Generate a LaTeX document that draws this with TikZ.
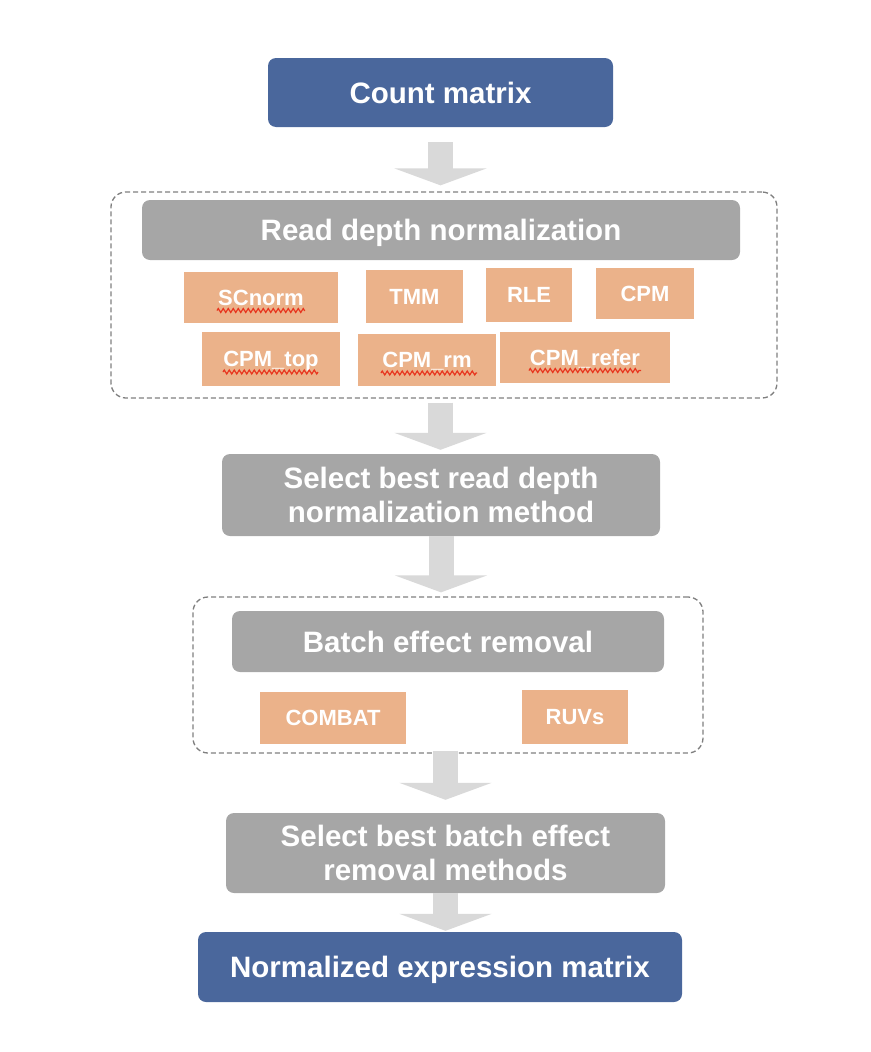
\documentclass[tikz,border=0pt]{standalone}
\usepackage{fontspec}
\setmainfont{Liberation Sans}
\usetikzlibrary{arrows.meta,decorations.pathmorphing}
\definecolor{boxblue}{HTML}{4A679C}
\definecolor{boxgray}{HTML}{A6A6A6}
\definecolor{boxorange}{HTML}{EBB28A}
\definecolor{arrowgray}{HTML}{D9D9D9}
\definecolor{framegray}{HTML}{7F7F7F}
\definecolor{squigred}{HTML}{E8361F}

\begin{document}
\begin{tikzpicture}[x=1pt, y=-1pt,
	mainbox/.style={rounded corners=8pt, text=white, inner sep=0pt, align=center,
		font=\bfseries\fontsize{29.5}{34.5}\selectfont},
	bluebox/.style={mainbox, fill=boxblue, text depth=0pt},
	graybox/.style={mainbox, fill=boxgray},
	headbox/.style={graybox, text depth=0pt},
	method/.style={fill=boxorange, text=white, inner sep=0pt, text depth=0pt,
		font=\bfseries\fontsize{22}{26}\selectfont},
	group/.style={draw=framegray, line width=1.3pt, dash pattern=on 5pt off 3pt,
		rounded corners=15pt, inner sep=0pt},
	flow/.style={draw=arrowgray, line width=25pt, -{Triangle[width=92pt,length=17pt]}},
	squig/.style={draw=squigred, line width=1.2pt, decorate,
		decoration={zigzag, segment length=5pt, amplitude=2pt}}]
	\useasboundingbox (0,0) rectangle (870,1052);
	\node[group, minimum width=666pt, minimum height=206pt] (normgroup) at (444,295) {};
	\node[group, minimum width=510pt, minimum height=156pt] (batchgroup) at (448,675) {};

	\node[bluebox, minimum width=345pt, minimum height=69pt] (count) at (440.5,92.5) {Count matrix};
	\node[headbox, minimum width=598pt, minimum height=60pt] (readnorm) at (441,230) {Read depth normalization};
		\node[method, minimum width=154pt, minimum height=51pt] (scnorm) at (261,297.5) {SCnorm};
		\node[method, minimum width=97pt, minimum height=53pt] (tmm) at (414.5,296.5) {TMM};
		\node[method, minimum width=86pt, minimum height=54pt] (rle) at (529,295) {RLE};
		\node[method, minimum width=98pt, minimum height=51pt] (cpm) at (645,293.5) {CPM};
		\node[method, minimum width=138pt, minimum height=54pt] (cpmtop) at (271,359) {CPM\_top};
		\node[method, minimum width=138pt, minimum height=52pt] (cpmrm) at (427,360) {CPM\_rm};
		\node[method, minimum width=170pt, minimum height=51pt] (cpmrefer) at (585,357.5) {CPM\_refer};
	\node[graybox, minimum width=438pt, minimum height=82pt] (selnorm) at (441,495) {Select best read depth\\normalization method};
	\node[headbox, minimum width=432pt, minimum height=61pt] (batch) at (448,641.5) {Batch effect removal};
		\node[method, minimum width=146pt, minimum height=52pt] (combat) at (333,718) {COMBAT};
		\node[method, minimum width=106pt, minimum height=54pt] (ruvs) at (575,717) {RUVs};
	\node[graybox, minimum width=439pt, minimum height=80pt] (selbatch) at (445.5,853) {Select best batch effect\\removal methods};
	\node[bluebox, minimum width=484pt, minimum height=70pt] (outmat) at (440,967) {Normalized expression matrix};

	\draw[squig] ([xshift=-44pt, yshift=-13pt]scnorm.center) -- ++(88,0);
	\draw[squig] ([xshift=-48pt, yshift=-13pt]cpmtop.center) -- ++(95,0);
	\draw[squig] ([xshift=-46pt, yshift=-13pt]cpmrm.center) -- ++(96,0);
	\draw[squig] ([xshift=-56pt, yshift=-13pt]cpmrefer.center) -- ++(112,0);

	\draw[flow, shorten <=15pt, shorten >=6pt] (count.south) -- (count.south |- normgroup.north);
	\draw[flow, shorten <=4pt, shorten >=4pt] (count.south |- normgroup.south) -- (count.south |- selnorm.north);
	\draw[flow, shorten >=4pt] (selnorm.south) -- (selnorm.south |- batchgroup.north);
	\draw[flow, shorten <=-3pt, shorten >=13pt] (selbatch.north |- batchgroup.south) -- (selbatch.north);
	\draw[flow, shorten >=1pt] (selbatch.south) -- (selbatch.south |- outmat.north);
\end{tikzpicture}
\end{document}
